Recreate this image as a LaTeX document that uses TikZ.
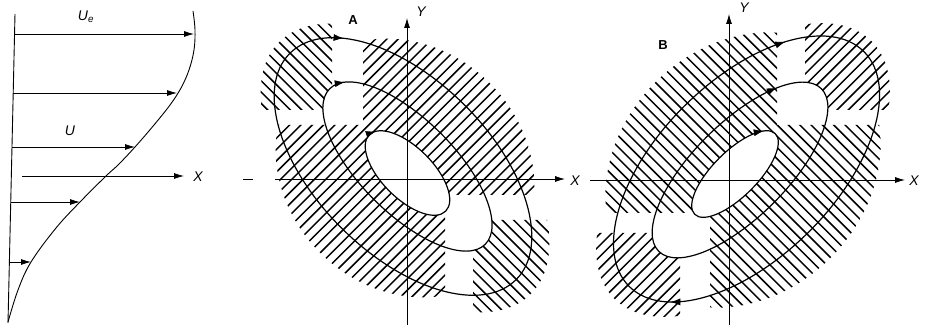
\documentclass[tikz,border=0pt]{standalone}
\usepackage{fontspec}
\setmainfont{Liberation Sans}
\usetikzlibrary{arrows.meta}

\tikzset{
  wall/.style={line width=0.9pt},
  profile/.style={line width=0.9pt},
  velo/.style={line width=0.8pt, -{Latex[length=10pt,width=6pt]}},
  axis/.style={line width=0.8pt, -{Latex[length=10pt,width=6pt]}},
  eddy/.style={line width=1.2pt},
  hatch/.style={line width=1.5pt},
  flowtip/.style={line width=0.8pt, -{Latex[length=10pt,width=7pt]}},
  lab/.style={font=\fontsize{14}{16}\selectfont\itshape, inner sep=1pt},
  tag/.style={font=\fontsize{13}{15}\selectfont\bfseries, inner sep=1pt},
}

\begin{document}
\begin{tikzpicture}[x=1pt, y=-1pt]
\useasboundingbox (0,0) rectangle (927,331);

% ---- velocity profile ----
\draw[wall] (15,14) -- (8,323);
\draw[profile] plot[smooth, tension=0.6] coordinates {(193,11) (195,30) (194,50)
  (189,70) (181,88) (170,105) (154,125) (135,147) (118,165) (106,176) (80,202)
  (56,228) (31,262) (18,290) (8,322)};
\coordinate (w1) at (14.5,34);  \coordinate (c1) at (194,34);
\coordinate (w2) at (13.2,93);  \coordinate (c2) at (177,93);
\coordinate (w3) at (12,147);   \coordinate (c3) at (135,147);
\coordinate (w4) at (10.7,202); \coordinate (c4) at (80,202);
\coordinate (w5) at (9.4,262);  \coordinate (c5) at (31,262);
\foreach \i in {1,...,5}
  \draw[velo] (w\i) -- (c\i);
\coordinate (px0) at (22,176);
\coordinate (px1) at (184,176);
\draw[axis] (px0) -- (px1);
\node[lab] (Ue) at (86,17) {U\textsubscript{e}};
\node[lab] (U) at (70,131) {U};
\node[lab] (pX) at (198,177) {X};

% ---- eddy A ----
% band hatching (/)
\begin{scope}[even odd rule]
  \clip (200,-10) rectangle (600,345)
        (200,-10) rectangle (363,125)
        (445,195) rectangle (600,345);
  \begin{scope}[shift={(405,168)}, rotate=-45]
    \clip (0,0) ellipse [x radius=138, y radius=120];
    \clip (0,0) circle [radius=300] (5.3,1.8) ellipse [x radius=54, y radius=25.6];
    \foreach \k in {-184,-176,...,184}
      \draw[hatch] (\k,-200) -- (\k,200);
  \end{scope}
\end{scope}
% tip hatching (\)
\begin{scope}[even odd rule]
  \clip (200,-10) rectangle (332,110) (473,220) rectangle (600,345);
  \begin{scope}[shift={(405,168)}, rotate=-45]
    \clip (0,0) ellipse [x radius=178, y radius=100];
    \clip (0,0) circle [radius=300] (0.7,-2.8) ellipse [x radius=110, y radius=47];
    \foreach \k in {-120,-112,...,120}
      \draw[hatch] (-200,\k) -- (200,\k);
  \end{scope}
\end{scope}
% streamlines
\begin{scope}[shift={(405,168)}, rotate=-45]
  \draw[eddy] (-2.5,0.35) ellipse [x radius=160, y radius=87];
  \draw[eddy] (0.7,-2.8) ellipse [x radius=110, y radius=47];
  \draw[eddy] (5.3,1.8) ellipse [x radius=54, y radius=25.6];
  \draw[flowtip] ([shift={(-2.5,0.35)}]211:160 and 87) -- ([shift={(-2.5,0.35)}]214:160 and 87);
  \draw[flowtip] ([shift={(0.7,-2.8)}]196:110 and 47) -- ([shift={(0.7,-2.8)}]199:110 and 47);
  \draw[flowtip] ([shift={(5.3,1.8)}]191:54 and 25.6) -- ([shift={(5.3,1.8)}]196:54 and 25.6);
\end{scope}
% axes
\coordinate (Ao) at (407,179);
\coordinate (AxL) at (243,179);
\coordinate (AxR) at (565,179);
\coordinate (AyB) at (407,325);
\coordinate (AyT) at (407,18);
\draw[line width=0.8pt] (AxL) -- ++(10,0);
\draw[axis] (275,179) -- (AxR);
\draw[axis] (AyB) -- (AyT);
\node[lab] (AX) at (575,181) {X};
\node[lab] (AY) at (421,12) {Y};
\node[tag] (A) at (353,20) {A};

% ---- eddy B ----
% band hatching (\)
\begin{scope}[even odd rule]
  \clip (570,-10) rectangle (940,345)
        (777,-10) rectangle (940,125)
        (570,213) rectangle (710,345);
  \begin{scope}[shift={(743,170)}, rotate=45]
    \clip (0,0) ellipse [x radius=150, y radius=124];
    \clip (0,0) circle [radius=300] (-8.5,-2.8) ellipse [x radius=57, y radius=22.4];
    \foreach \k in {-184,-176,...,184}
      \draw[hatch] (\k,-200) -- (\k,200);
  \end{scope}
\end{scope}
% tip hatching (/)
\begin{scope}[even odd rule]
  \clip (805,-10) rectangle (940,110) (570,233) rectangle (680,345);
  \begin{scope}[shift={(743,170)}, rotate=45]
    \clip (0,0) ellipse [x radius=182, y radius=100];
    \clip (0,0) circle [radius=300] (-2.1,-2.1) ellipse [x radius=115, y radius=47];
    \foreach \k in {-120,-112,...,120}
      \draw[hatch] (-200,\k) -- (200,\k);
  \end{scope}
\end{scope}
% streamlines
\begin{scope}[shift={(743,170)}, rotate=45]
  \draw[eddy] (3.2,1.8) ellipse [x radius=166, y radius=88.5];
  \draw[eddy] (-2.1,-2.1) ellipse [x radius=115, y radius=47];
  \draw[eddy] (-8.5,-2.8) ellipse [x radius=57, y radius=22.4];
  \draw[flowtip] ([shift={(3.2,1.8)}]312:166 and 88.5) -- ([shift={(3.2,1.8)}]315:166 and 88.5);
  \draw[flowtip] ([shift={(-2.1,-2.1)}]314:115 and 47) -- ([shift={(-2.1,-2.1)}]317:115 and 47);
  \draw[flowtip] ([shift={(-8.5,-2.8)}]328:57 and 22.4) -- ([shift={(-8.5,-2.8)}]333:57 and 22.4);
  \draw[flowtip] ([shift={(3.2,1.8)}]150:166 and 88.5) -- ([shift={(3.2,1.8)}]153:166 and 88.5);
\end{scope}
% axes
\coordinate (Bo) at (729,180);
\coordinate (BxL) at (590,180);
\coordinate (BxR) at (905,180);
\coordinate (ByB) at (729,325);
\coordinate (ByT) at (729,14);
\draw[axis] (BxL) -- (BxR);
\draw[axis] (ByB) -- (ByT);
\node[lab] (BX) at (914,181) {X};
\node[lab] (BY) at (744,8) {Y};
\node[tag] (B) at (663,45) {B};
\end{tikzpicture}
\end{document}
